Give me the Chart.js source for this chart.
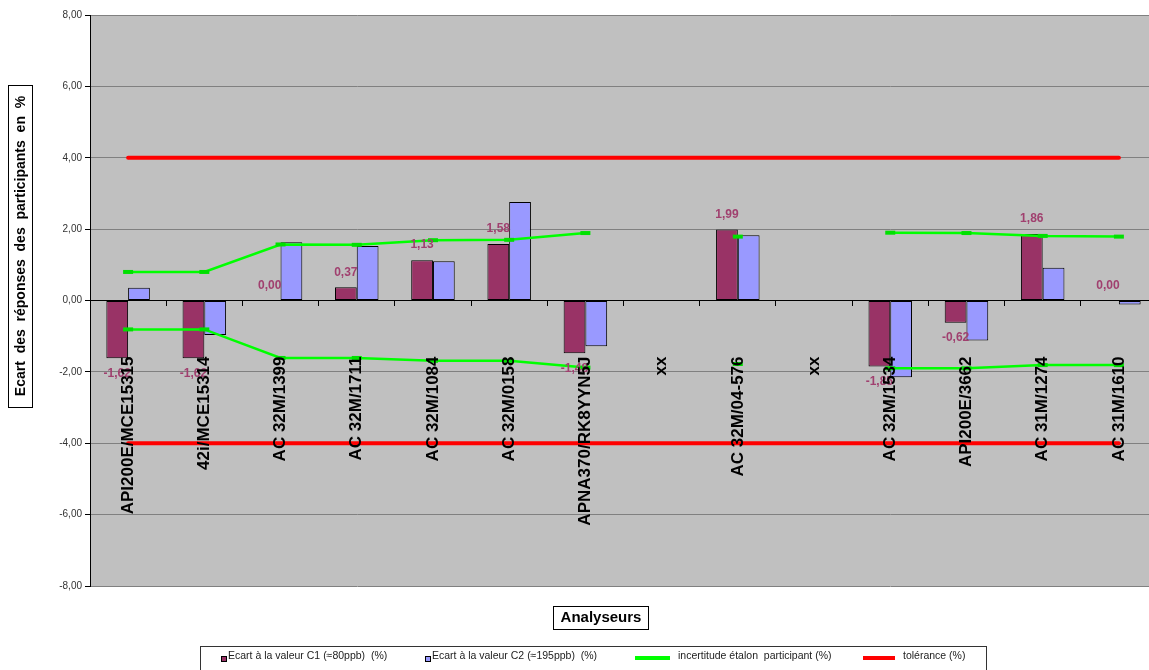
<!DOCTYPE html>
<html>
<head>
<meta charset="utf-8">
<script src="https://cdn.jsdelivr.net/npm/chart.js@4/dist/chart.umd.min.js"></script>
<style>
  html, body { margin: 0; padding: 0; background: #fff; overflow: hidden; }
  #wrap { width: 1166px; height: 670px; }
</style>
</head>
<body>
<div id="wrap"><canvas id="ecartChart" width="1166" height="670"></canvas></div>
<script>
// Analyseurs (axe des catégories)
const analyseurs = ['API200E/MCE15315', '42i/MCE15314', 'AC 32M/1399', 'AC 32M/1711', 'AC 32M/1084',
  'AC 32M/0158', 'APNA370/RK8YYN5J', 'xx', 'AC 32M/04-576', 'xx', 'AC 32M/1534',
  'API200E/3662', 'AC 31M/1274', 'AC 31M/1610'];

// Ecarts en %
const ecartC1 = [-1.62, -1.62, 0.00, 0.37, 1.13, 1.58, -1.48, null, 1.99, null, -1.85, -0.62, 1.86, 0.00];
const ecartC2 = [0.36, -0.97, 1.63, 1.53, 1.10, 2.76, -1.28, null, 1.83, null, -2.15, -1.12, 0.92, -0.11];

// Incertitude étalon participant (bornes haute et basse)
const incertHaute = [0.80, 0.80, 1.57, 1.56, 1.69, 1.70, 1.89, null, 1.79, null, 1.90, 1.89, 1.81, 1.79];
const incertBasse = [-0.81, -0.81, -1.61, -1.61, -1.69, -1.69, -1.88, null, -1.78, null, -1.90, -1.90, -1.81, -1.81];

// Tolérance
const tolHaute = [4, 4, 4, 4, 4, 4, 4, 4, 4, 4, 4, 4, 4, 4];
const tolBasse = [-4, -4, -4, -4, -4, -4, -4, -4, -4, -4, -4, -4, -4, -4];

// Graduations de l'axe Y
const yMin = -8, yMax = 8, yPas = 2;

const fmt = v => v.toFixed(2).replace('.', ',');

// fond gris de la zone de tracé
const fondZone = {
  id: 'fondZone',
  beforeDraw(chart) {
    const {ctx, chartArea: a} = chart;
    ctx.save();
    ctx.fillStyle = '#C0C0C0';
    ctx.fillRect(a.left, a.top, a.right - a.left, a.bottom - a.top);
    ctx.restore();
  }
};

// étiquettes de valeurs sur la série C1
const etiquettes = {
  id: 'etiquettes',
  afterDatasetsDraw(chart) {
    const ctx = chart.ctx;
    const meta = chart.getDatasetMeta(0);
    ctx.save();
    ctx.font = 'bold 12px "Liberation Sans", Arial, sans-serif';
    ctx.fillStyle = '#A0406F';
    ctx.textAlign = 'center';
    ctx.textBaseline = 'middle';
    meta.data.forEach((bar, i) => {
      const v = ecartC1[i];
      if (v === null) return;
      const y = v >= 0 ? bar.y - 15 : bar.y + 15;
      ctx.fillText(fmt(v), bar.x, y);
    });
    ctx.restore();
  }
};

// titres encadrés et légende
const cadres = {
  id: 'cadres',
  afterDraw(chart) {
    const ctx = chart.ctx;
    ctx.save();
    ctx.lineWidth = 1;
    ctx.strokeStyle = '#000';

    // titre axe Y
    ctx.fillStyle = '#fff';
    ctx.fillRect(8.5, 85.5, 24, 322);
    ctx.strokeRect(8.5, 85.5, 24, 322);
    ctx.translate(21, 246);
    ctx.rotate(-Math.PI / 2);
    ctx.fillStyle = '#000';
    ctx.font = 'bold 14px "Liberation Sans", Arial, sans-serif';
    ctx.textAlign = 'center';
    ctx.textBaseline = 'middle';
    ctx.fillText('Ecart  des  réponses  des  participants  en  %', 0, 0);
    ctx.setTransform(1, 0, 0, 1, 0, 0);

    // titre axe X
    ctx.fillStyle = '#fff';
    ctx.fillRect(553.5, 606.5, 95, 23);
    ctx.strokeRect(553.5, 606.5, 95, 23);
    ctx.fillStyle = '#000';
    ctx.font = 'bold 15px "Liberation Sans", Arial, sans-serif';
    ctx.fillText('Analyseurs', 601, 618);

    // légende
    ctx.strokeStyle = '#333';
    ctx.strokeRect(200.5, 646.5, 786, 40);
    const ds = chart.data.datasets;
    ctx.font = '10.5px "Liberation Sans", Arial, sans-serif';
    ctx.textAlign = 'left';
    ctx.textBaseline = 'middle';
    const items = [
      {d: ds[0], x: 221, type: 'box'},
      {d: ds[1], x: 425, type: 'box'},
      {d: ds[2], x: 635, w: 35, type: 'line'},
      {d: ds[4], x: 863, w: 32, type: 'line'}
    ];
    items.forEach(it => {
      let tx;
      if (it.type === 'box') {
        ctx.fillStyle = it.d.backgroundColor;
        ctx.fillRect(it.x + 0.5, 656.5, 5, 5);
        ctx.strokeStyle = '#000';
        ctx.strokeRect(it.x + 0.5, 656.5, 5, 5);
        tx = it.x + 7;
      } else {
        ctx.strokeStyle = it.d.borderColor;
        ctx.lineWidth = 4;
        ctx.beginPath();
        ctx.moveTo(it.x, 658);
        ctx.lineTo(it.x + it.w, 658);
        ctx.stroke();
        ctx.lineWidth = 1;
        tx = it.x + it.w + 8;
      }
      ctx.fillStyle = '#222';
      ctx.fillText(it.d.label, tx, 656);
    });
    ctx.restore();
  }
};

const ligneInc = {
  type: 'line',
  borderColor: '#00FF00',
  backgroundColor: '#00FF00',
  borderWidth: 2.5,
  pointStyle: 'line',
  pointRadius: 5,
  pointBorderWidth: 4,
  pointBorderColor: '#00E000',
  spanGaps: false,
  fill: false,
  order: 0
};
const ligneTol = {
  type: 'line',
  borderColor: '#FF0000',
  backgroundColor: '#FF0000',
  borderWidth: 4,
  borderCapStyle: 'round',
  pointRadius: 0,
  fill: false,
  order: 0
};

new Chart(document.getElementById('ecartChart'), {
  type: 'bar',
  data: {
    labels: analyseurs,
    datasets: [
      {label: 'Ecart à la valeur C1 (≈80ppb)  (%)', data: ecartC1, backgroundColor: '#993366',
       borderColor: '#000', borderWidth: 1, borderSkipped: false, order: 1},
      {label: 'Ecart à la valeur C2 (≈195ppb)  (%)', data: ecartC2, backgroundColor: '#9999FF',
       borderColor: '#000', borderWidth: 1, borderSkipped: false, order: 1},
      Object.assign({label: 'incertitude étalon  participant (%)', data: incertHaute}, ligneInc),
      Object.assign({label: 'incertitude étalon  participant (%)', data: incertBasse}, ligneInc),
      Object.assign({label: 'tolérance (%)', data: tolHaute}, ligneTol),
      Object.assign({label: 'tolérance (%)', data: tolBasse}, ligneTol)
    ]
  },
  options: {
    responsive: false,
    animation: false,
    datasets: {bar: {categoryPercentage: 0.571, barPercentage: 1.0}},
    layout: {padding: {left: 40, top: 15, right: 3, bottom: 84}},
    plugins: {legend: {display: false}, tooltip: {enabled: false}},
    scales: {
      x: {
        position: {y: 0},
        afterFit(scale) {
          scale.height = 0;
          scale.paddingLeft = 0;
          scale.paddingRight = 0;
        },
        grid: {display: true, drawOnChartArea: false, offset: true, tickLength: 5, tickColor: '#000'},
        border: {display: true, color: '#000', width: 1, z: 1},
        ticks: {
          autoSkip: false, minRotation: 90, maxRotation: 90, padding: 51, z: 1,
          color: '#000', font: {family: '"Liberation Sans", Arial, sans-serif', size: 17, weight: 'bold'}
        }
      },
      y: {
        min: yMin, max: yMax,
        afterFit(scale) { scale.width = 50; },
        grid: {color: '#808080', tickLength: 5, tickColor: '#000'},
        border: {display: true, color: '#000', width: 1},
        ticks: {
          stepSize: yPas, padding: 3, color: '#333',
          font: {family: '"Liberation Sans", Arial, sans-serif', size: 10},
          callback: v => fmt(v)
        }
      }
    }
  },
  plugins: [fondZone, etiquettes, cadres]
});
</script>
</body>
</html>
